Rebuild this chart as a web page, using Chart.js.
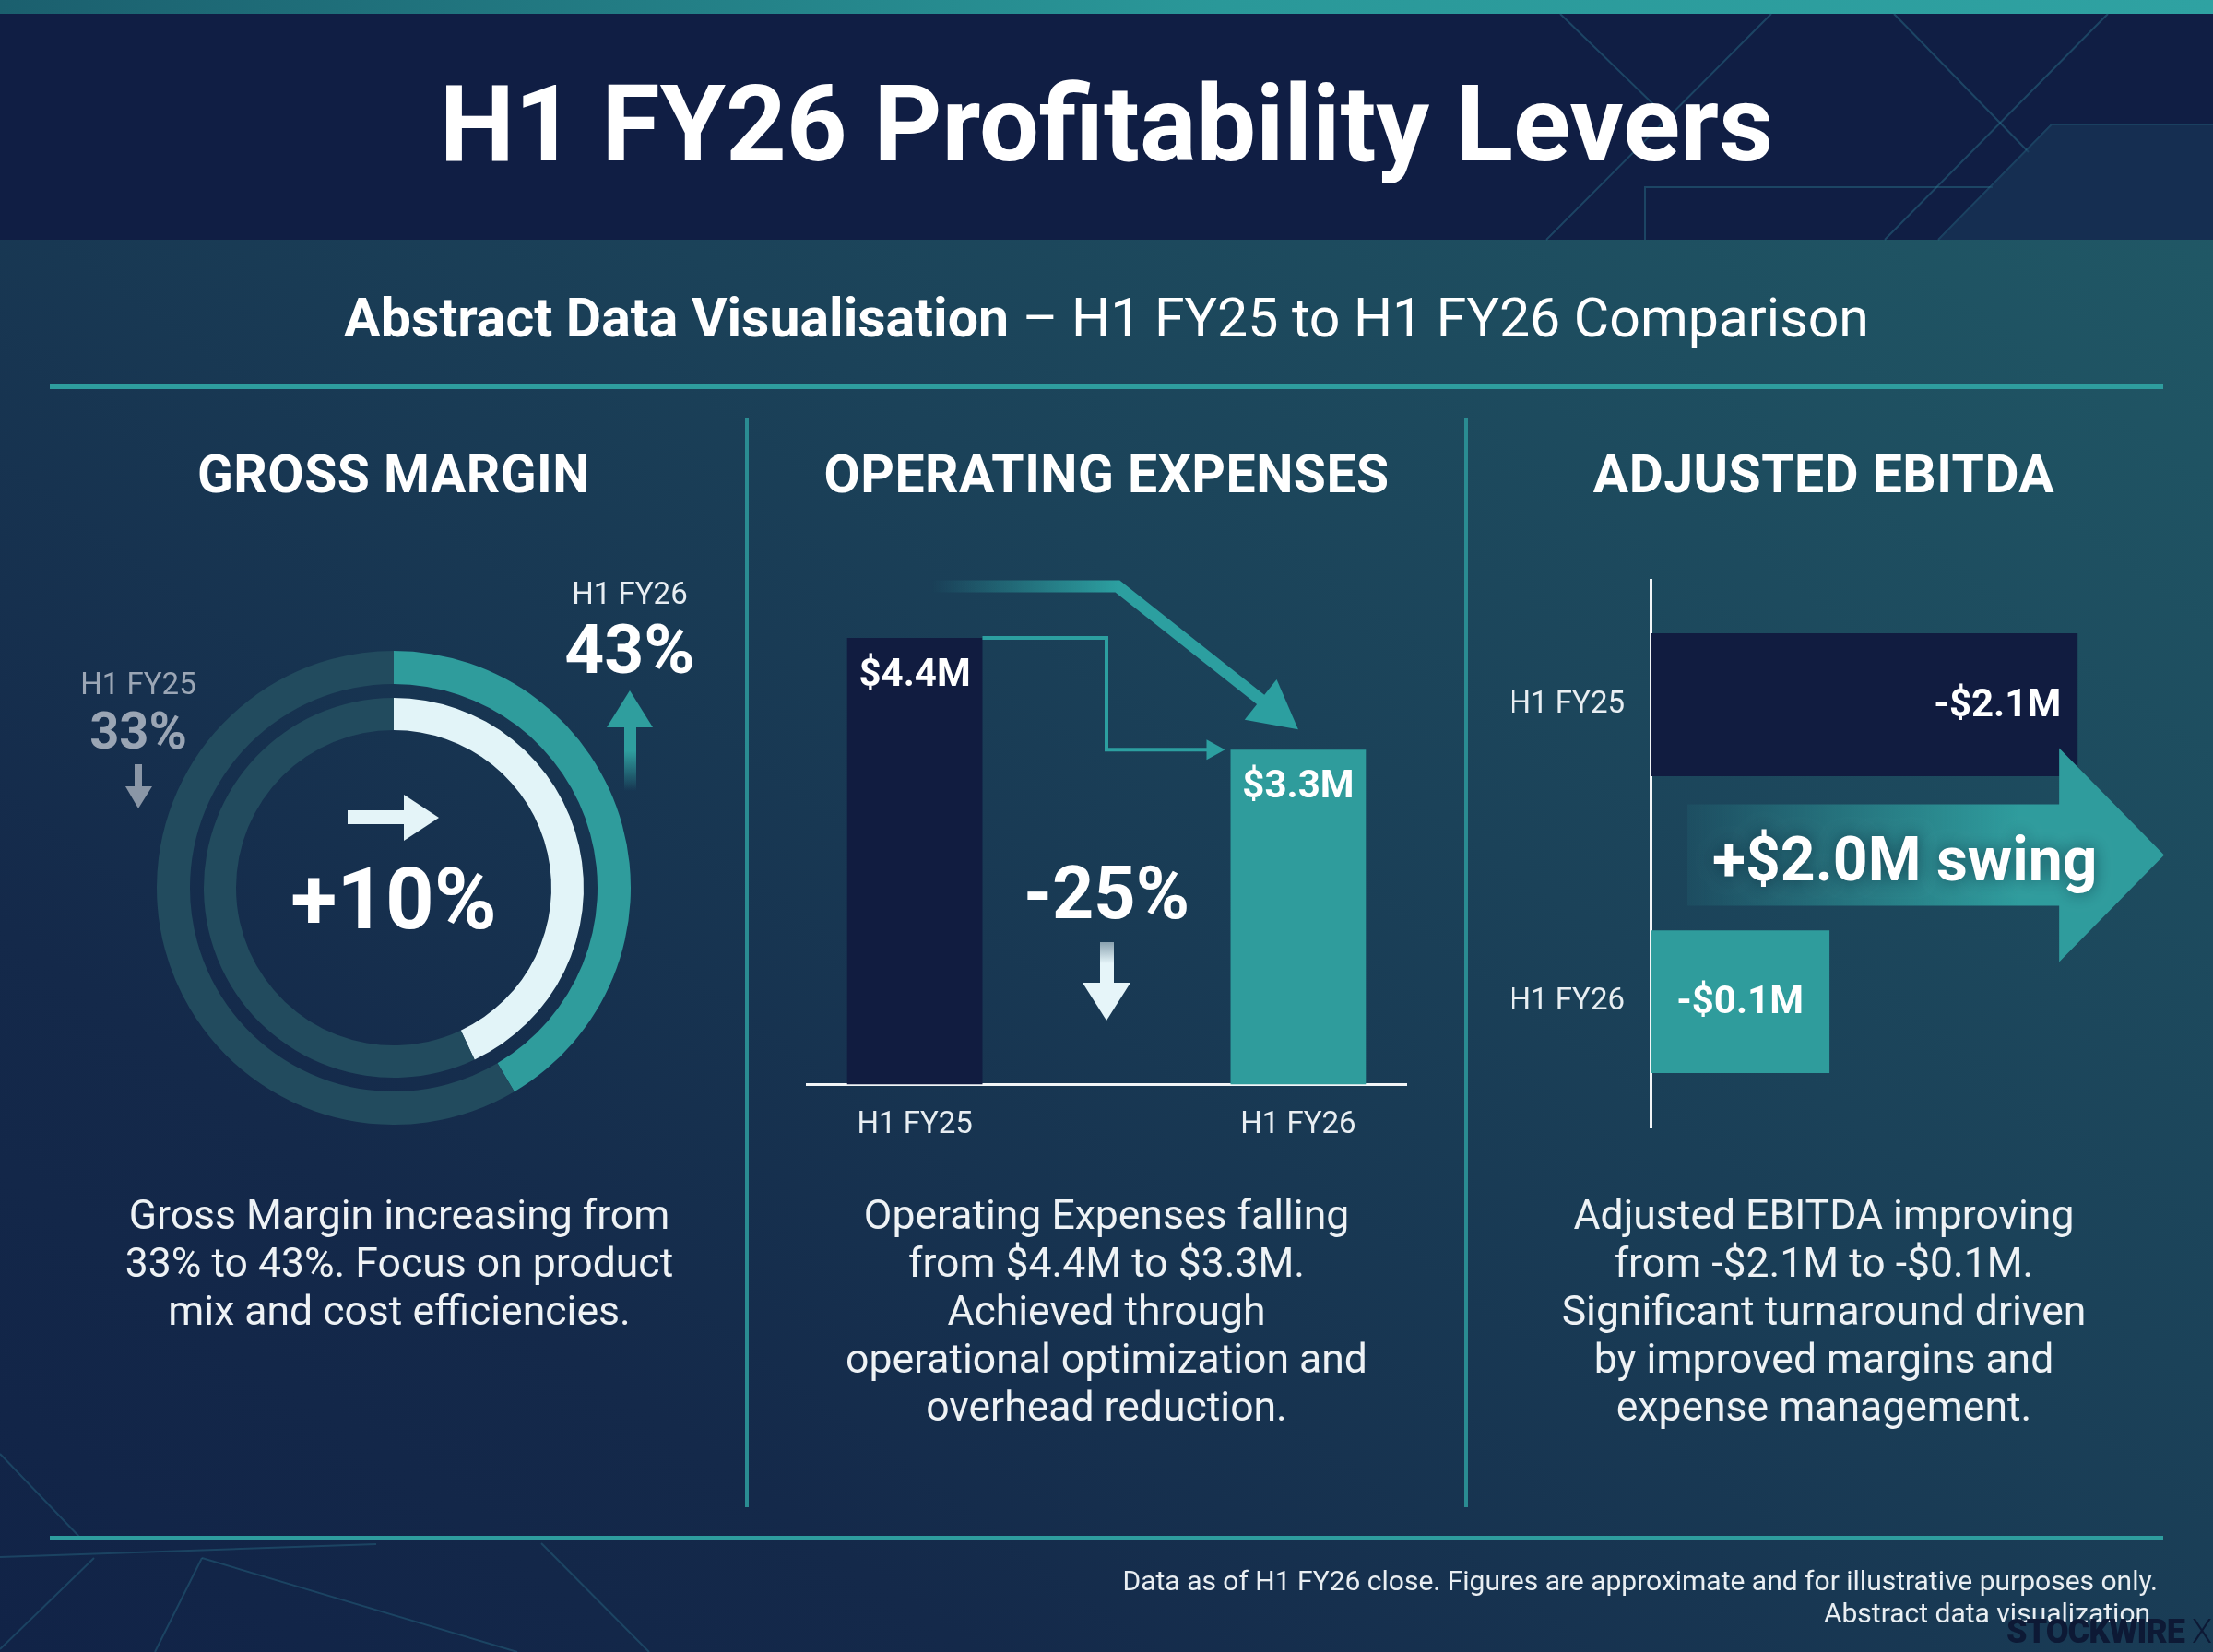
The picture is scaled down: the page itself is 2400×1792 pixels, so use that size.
<!DOCTYPE html>
<html>
<head>
<meta charset="utf-8">
<script src="https://cdn.jsdelivr.net/npm/chart.js@4.4.1/dist/chart.umd.min.js"></script>
<style>
html,body{margin:0;padding:0;}
body{width:2400px;height:1792px;position:relative;overflow:hidden;font-family:Roboto,"Noto Sans",sans-serif;color:#fff;
  background:linear-gradient(to bottom left,#215c68 0%,#1b4259 42%,#14294a 78%,#112347 100%);}
.abs{position:absolute;}
.ctr{position:absolute;transform:translate(-50%,-50%);white-space:nowrap;text-align:center;line-height:1;}
#topstrip{left:0;top:0;width:2400px;height:15px;background:linear-gradient(to right,#1b5f6e,#2a9899 55%,#2fa2a2);}
#header{left:0;top:15px;width:2400px;height:245px;background:#101e44;}
.rule{position:absolute;left:54px;width:2292px;height:5px;background:#2e9d9e;}
.sep{position:absolute;top:453px;width:4px;height:1182px;background:#2a8c92;}
.head{font-weight:700;font-size:57px;letter-spacing:0.5px;}
.desc{position:absolute;transform:translateX(-50%);text-align:center;white-space:nowrap;font-size:44.5px;line-height:52px;color:#eef2f5;}
canvas{position:absolute;}
#deco{position:absolute;left:0;top:0;z-index:0;}
#icons{position:absolute;left:0;top:0;z-index:3;pointer-events:none;}
.txt{z-index:4;}
</style>
</head>
<body>
<div id="topstrip" class="abs"></div>
<div id="header" class="abs"></div>

<svg id="deco" width="2400" height="1792">
  <g stroke="#2f7f95" stroke-opacity="0.4" stroke-width="2" fill="none">
    <line x1="1921" y1="15" x2="1677" y2="260"/>
    <line x1="1692" y1="15" x2="1795" y2="115"/>
    <line x1="2054" y1="15" x2="2200" y2="165"/>
    <line x1="2286" y1="15" x2="2044" y2="260"/>
    <polyline points="2102,260 2225,135 2400,135"/>
    <polyline points="1784,260 1784,203 2161,203"/>
  </g>
  <polygon points="2225,135 2400,135 2400,260 2102,260" fill="#1a3c5c" fill-opacity="0.55"/>
  <g stroke="#2f7f95" stroke-opacity="0.35" stroke-width="2" fill="none">
    <line x1="0" y1="1577" x2="87" y2="1668"/>
    <line x1="0" y1="1689" x2="408" y2="1675"/>
    <line x1="219" y1="1690" x2="168" y2="1792"/>
    <line x1="219" y1="1690" x2="561" y2="1792"/>
    <line x1="102" y1="1690" x2="0" y2="1789"/>
    <line x1="587" y1="1674" x2="704" y2="1792"/>
  </g>
</svg>

<div class="ctr txt" style="left:1200px;top:134px;font-size:115px;font-weight:700;">H1 FY26 Profitability Levers</div>
<div class="ctr txt" style="left:1200px;top:344px;font-size:59px;"><b>Abstract Data Visualisation</b> – H1 FY25 to H1 FY26 Comparison</div>
<div class="rule" style="top:417px;"></div>
<div class="sep" style="left:808px;"></div>
<div class="sep" style="left:1588px;"></div>
<div class="rule" style="top:1666px;"></div>

<div class="ctr txt head" style="left:427px;top:514px;">GROSS MARGIN</div>
<div class="ctr txt head" style="left:1200px;top:514px;">OPERATING EXPENSES</div>
<div class="ctr txt head" style="left:1978px;top:514px;">ADJUSTED EBITDA</div>

<!-- Gross margin annotations -->
<div class="ctr txt" id="gmPrevLab" style="left:150px;top:741px;font-size:33px;color:#9ba6b5;"></div>
<div class="ctr txt" id="gmPrevVal" style="left:150px;top:793px;font-size:56px;font-weight:700;color:#9aa5b4;"></div>
<div class="ctr txt" id="gmCurLab" style="left:683px;top:643px;font-size:33px;color:#e8eef3;"></div>
<div class="ctr txt" id="gmCurVal" style="left:683px;top:704px;font-size:75px;font-weight:700;color:#ffffff;"></div>
<div class="ctr txt" id="gmDelta" style="left:427px;top:976px;font-size:92px;font-weight:700;color:#ffffff;"></div>
<div class="ctr txt" id="opexDelta" style="left:1200px;top:969px;font-size:79px;font-weight:700;color:#ffffff;"></div>

<svg id="icons" width="2400" height="1792">
  <defs>
    <linearGradient id="upFade" x1="0" y1="1" x2="0" y2="0">
      <stop offset="0" stop-color="#2f9e9e" stop-opacity="0"/>
      <stop offset="0.6" stop-color="#2f9e9e" stop-opacity="1"/>
    </linearGradient>
    <linearGradient id="downFade" x1="0" y1="0" x2="0" y2="1">
      <stop offset="0" stop-color="#e6f5f9" stop-opacity="0.55"/>
      <stop offset="0.5" stop-color="#e6f5f9" stop-opacity="1"/>
    </linearGradient>
  </defs>
  <!-- grey down arrow -->
  <rect x="146" y="829" width="8" height="27" fill="#8a96a6"/>
  <polygon points="136,853 165,853 150,877" fill="#8a96a6"/>
  <!-- teal up arrow -->
  <rect x="677" y="786" width="13" height="72" fill="url(#upFade)"/>
  <polygon points="658,789 708,789 683,749" fill="#2f9e9e"/>
  <!-- white right arrow -->
  <rect x="377" y="879" width="63" height="15" fill="#e4f4f8"/>
  <polygon points="438,862 438,912 476,887" fill="#e4f4f8"/>
  <!-- white down arrow -->
  <rect x="1193" y="1022" width="15" height="46" fill="url(#downFade)"/>
  <polygon points="1174,1066 1226,1066 1200,1107" fill="#e6f5f9"/>
</svg>

<div class="desc txt" style="left:433px;top:1292px;">Gross Margin increasing from<br>33% to 43%. Focus on product<br>mix and cost efficiencies.</div>
<div class="desc txt" style="left:1200px;top:1292px;">Operating Expenses falling<br>from $4.4M to $3.3M.<br>Achieved through<br>operational optimization and<br>overhead reduction.</div>
<div class="desc txt" style="left:1978px;top:1292px;">Adjusted EBITDA improving<br>from -$2.1M to -$0.1M.<br>Significant turnaround driven<br>by improved margins and<br>expense management.</div>

<div class="abs txt" style="right:60px;top:1697px;font-size:30px;line-height:35px;text-align:right;color:#e9eef2;white-space:nowrap;">Data as of H1 FY26 close. Figures are approximate and for illustrative purposes only.<br>Abstract data visualization.</div>
<div class="abs txt" style="right:2px;top:1752px;font-size:36px;line-height:36px;font-weight:900;color:#0d1935;letter-spacing:-1px;white-space:nowrap;">STOCKWIRE <span style="font-weight:300">X</span></div>

<canvas id="c1" width="514" height="514" style="left:170px;top:706px;width:514px;height:514px;z-index:1;"></canvas>
<canvas id="c2" width="652" height="640" style="left:874px;top:626px;width:652px;height:640px;z-index:1;"></canvas>
<canvas id="c3" width="708" height="689" style="left:1640px;top:582px;width:708px;height:689px;z-index:1;"></canvas>

<script>
// ---------------- DATA ----------------
const periodLabels = ['H1 FY25', 'H1 FY26'];

// Gross margin (%)
const gmValues = [33, 43];
const gmOuterArc = [41.5, 58.5];   // outer ring: filled share as drawn
const gmInnerArc = [43, 57];       // inner ring: filled share as drawn

// Operating expenses ($M)
const opexValues = [4.4, 3.3];
const opexChangePct = -25;

// Adjusted EBITDA ($M)
const ebitdaValues = [-2.1, -0.1];
const ebitdaBarLength = [2.1, 0.88]; // bar extents as drawn (abstract scale)

// ---------------- TEXT FROM DATA ----------------
document.getElementById('gmPrevLab').textContent = periodLabels[0];
document.getElementById('gmPrevVal').textContent = gmValues[0] + '%';
document.getElementById('gmCurLab').textContent = periodLabels[1];
document.getElementById('gmCurVal').textContent = gmValues[1] + '%';
document.getElementById('gmDelta').textContent = '+' + (gmValues[1] - gmValues[0]) + '%';
document.getElementById('opexDelta').textContent = opexChangePct + '%';

Chart.defaults.font.family = 'Roboto';
Chart.defaults.animation = false;
Chart.defaults.responsive = false;
Chart.defaults.plugins.legend.display = false;
Chart.defaults.plugins.tooltip.enabled = false;

const TEAL = '#2f9c9c';
const NAVY = '#111c40';
const TRACK = '#224b5e';

// ---------------- GROSS MARGIN RINGS ----------------
new Chart(document.getElementById('c1'), {
  type: 'doughnut',
  data: {
    labels: ['filled', 'remaining'],
    datasets: [
      { data: gmOuterArc, backgroundColor: [TEAL, TRACK], borderWidth: 0, weight: 36 },
      { data: [100], backgroundColor: ['rgba(0,0,0,0)'], borderWidth: 0, weight: 15 },
      { data: gmInnerArc, backgroundColor: ['#e2f4f8', TRACK], borderWidth: 0, weight: 35 }
    ]
  },
  options: { cutout: 171, layout: { padding: 0 } }
});

// ---------------- OPERATING EXPENSES ----------------
const opexAnnot = {
  id: 'opexAnnot',
  afterDatasetsDraw(chart) {
    const ctx = chart.ctx;
    const bars = chart.getDatasetMeta(0).data;
    const b0 = bars[0], b1 = bars[1];
    const mid = (b0.x + b1.x) / 2;
    ctx.save();
    // thin stepped connector
    ctx.strokeStyle = '#2c9fa0';
    ctx.fillStyle = '#2c9fa0';
    ctx.lineWidth = 4;
    ctx.beginPath();
    ctx.moveTo(b0.x + b0.width / 2, b0.y);
    ctx.lineTo(mid, b0.y);
    ctx.lineTo(mid, b1.y);
    const endX = b1.x - b1.width / 2 - 6;
    ctx.lineTo(endX - 16, b1.y);
    ctx.stroke();
    ctx.beginPath();
    ctx.moveTo(endX, b1.y);
    ctx.lineTo(endX - 20, b1.y - 11);
    ctx.lineTo(endX - 20, b1.y + 11);
    ctx.closePath();
    ctx.fill();
    // thick trend arrow
    const sx = b0.x + 18, sy = b0.y - 56;
    const cx = mid + 12;
    const tx = b1.x, ty = b1.y - 22;
    const ang = Math.atan2(ty - sy, tx - cx);
    const headLen = 52, headHalf = 28;
    const bx = tx - headLen * Math.cos(ang), by = ty - headLen * Math.sin(ang);
    const g = ctx.createLinearGradient(sx, 0, cx, 0);
    g.addColorStop(0, 'rgba(44,159,160,0)');
    g.addColorStop(1, 'rgba(44,159,160,1)');
    ctx.strokeStyle = g;
    ctx.lineWidth = 13;
    ctx.lineJoin = 'miter';
    ctx.beginPath();
    ctx.moveTo(sx, sy);
    ctx.lineTo(cx, sy);
    ctx.lineTo(bx + 4 * Math.cos(ang), by + 4 * Math.sin(ang));
    ctx.stroke();
    const px = -Math.sin(ang), py = Math.cos(ang);
    ctx.fillStyle = '#2c9fa0';
    ctx.beginPath();
    ctx.moveTo(tx, ty);
    ctx.lineTo(bx + px * headHalf, by + py * headHalf);
    ctx.lineTo(bx - px * headHalf, by - py * headHalf);
    ctx.closePath();
    ctx.fill();
    // value labels
    ctx.fillStyle = '#ffffff';
    ctx.font = 'bold 42px Roboto';
    ctx.textAlign = 'center';
    ctx.textBaseline = 'middle';
    opexValues.forEach((v, i) => {
      const b = bars[i];
      ctx.fillText('$' + v.toFixed(1) + 'M', b.x, b.y + 41);
    });
    ctx.restore();
  }
};

new Chart(document.getElementById('c2'), {
  type: 'bar',
  data: {
    datasets: [{
      data: opexValues.map((v, i) => ({ x: i, y: v })),
      backgroundColor: [NAVY, TEAL],
      borderWidth: 0,
      barPercentage: 0.353,
      categoryPercentage: 1
    }]
  },
  options: {
    layout: { padding: 0 },
    scales: {
      x: {
        type: 'linear', min: -0.284, max: 1.284, offset: false,
        afterBuildTicks: (ax) => { ax.ticks = periodLabels.map((_, i) => ({ value: i })); },
        ticks: { callback: (v) => periodLabels[v] ?? '', color: '#e8eef2', font: { size: 33 }, padding: 25, maxRotation: 0, autoSkip: false },
        grid: { display: false, drawTicks: false, offset: false },
        border: { display: true, color: '#f2f5f7', width: 3 }
      },
      y: { display: false, min: 0, max: 5 }
    }
  },
  plugins: [opexAnnot]
});

// ---------------- ADJUSTED EBITDA ----------------
const ebitdaAnnot = {
  id: 'ebitdaAnnot',
  afterDatasetsDraw(chart) {
    const ctx = chart.ctx, ca = chart.chartArea;
    const bars = chart.getDatasetMeta(0).data;
    const b0 = bars[0], b1 = bars[1];
    const midY = (b0.y + b1.y) / 2 + 2;
    const tip = ca.right - 1, headBase = b0.x - 20;
    const shaftHalf = 55, headHalf = 116, start = ca.left + 40;
    ctx.save();
    const g = ctx.createLinearGradient(start, 0, ca.left + 400, 0);
    g.addColorStop(0, 'rgba(47,156,157,0.10)');
    g.addColorStop(1, 'rgba(47,156,157,1)');
    ctx.fillStyle = g;
    ctx.beginPath();
    ctx.moveTo(start, midY - shaftHalf);
    ctx.lineTo(headBase, midY - shaftHalf);
    ctx.lineTo(headBase, midY - headHalf);
    ctx.lineTo(tip, midY);
    ctx.lineTo(headBase, midY + headHalf);
    ctx.lineTo(headBase, midY + shaftHalf);
    ctx.lineTo(start, midY + shaftHalf);
    ctx.closePath();
    ctx.fill();
    // swing text
    const swing = ebitdaValues[1] - ebitdaValues[0];
    ctx.font = 'bold 66px Roboto';
    ctx.textAlign = 'left';
    ctx.textBaseline = 'middle';
    ctx.fillStyle = '#ffffff';
    ctx.shadowColor = 'rgba(8,25,45,0.55)';
    ctx.shadowBlur = 18;
    ctx.fillText('+$' + swing.toFixed(1) + 'M swing', start + 27, midY + 11);
    ctx.shadowBlur = 0;
    // value labels
    ctx.font = 'bold 42px Roboto';
    const fmt = (v) => (v < 0 ? '-' : '') + '$' + Math.abs(v).toFixed(1) + 'M';
    ctx.textAlign = 'right';
    ctx.fillText(fmt(ebitdaValues[0]), b0.x - 18, b0.y + 2);
    ctx.textAlign = 'center';
    ctx.fillText(fmt(ebitdaValues[1]), (b1.base + b1.x) / 2, b1.y + 2);
    ctx.restore();
  }
};

new Chart(document.getElementById('c3'), {
  type: 'bar',
  data: {
    datasets: [{
      data: ebitdaBarLength.map((v, i) => ({ x: v, y: i })),
      backgroundColor: [NAVY, TEAL],
      borderWidth: 0,
      barPercentage: 0.481,
      categoryPercentage: 1
    }]
  },
  options: {
    indexAxis: 'y',
    layout: { padding: 0 },
    scales: {
      y: {
        type: 'linear', reverse: true, min: -0.418, max: 1.424, offset: false,
        afterBuildTicks: (ax) => { ax.ticks = periodLabels.map((_, i) => ({ value: i })); },
        afterFit: (ax) => { ax.width = 150; },
        ticks: { callback: (v) => periodLabels[v] ?? '', color: '#e8eef2', font: { size: 33 }, padding: 28, autoSkip: false },
        grid: { display: false, drawTicks: false, offset: false },
        border: { display: true, color: '#f2f5f7', width: 3 }
      },
      x: { display: false, min: 0, max: 2.53 }
    }
  },
  plugins: [ebitdaAnnot]
});
</script>
</body>
</html>
